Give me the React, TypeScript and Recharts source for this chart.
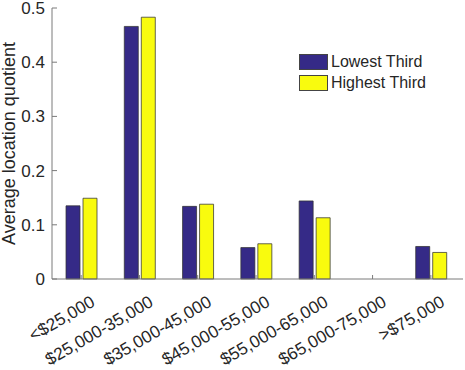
import React from 'react';
import { BarChart, Bar, XAxis, YAxis, Legend } from 'recharts';

const categories = ['<$25,000', '$25,000-35,000', '$35,000-45,000', '$45,000-55,000', '$55,000-65,000', '$65,000-75,000', '>$75,000'];
const lowestThird = [0.135, 0.466, 0.134, 0.058, 0.144, 0, 0.06];
const highestThird = [0.149, 0.483, 0.138, 0.065, 0.113, 0, 0.049];
const yTicks = [0, 0.1, 0.2, 0.3, 0.4, 0.5];
const seriesOrder = ['low', 'high'];

const data = categories.map((c, i) => ({ cat: c, low: lowestThird[i], high: highestThird[i] }));

const FONT = '"Liberation Sans", Arial, Helvetica, sans-serif';
const AXIS = '#7a7a7a';
const TEXT = '#262626';
const BLUE = '#352A87';
const YELLOW = '#F9FB0E';
const TOP = 8;
const PLOT_H = 271;

const XTick = (props: any) => {
  const { x, y, payload } = props;
  return (
    <g transform={`translate(${x + 12},${y + 21})`}>
      <text
        x={0}
        y={0}
        dy="0.35em"
        textAnchor="end"
        transform="rotate(-30)"
        fontSize={17.3}
        fontFamily={FONT}
        fill={TEXT}
      >
        {payload.value}
      </text>
    </g>
  );
};

const YLabel = () => {
  const cx = 9;
  const cy = TOP + PLOT_H / 2;
  return (
    <text
      x={cx}
      y={cy}
      dy="0.35em"
      textAnchor="middle"
      transform={`rotate(-90, ${cx}, ${cy})`}
      fontSize={18}
      fontFamily={FONT}
      fill={TEXT}
    >
      Average location quotient
    </text>
  );
};

const LegendContent = (props: any) => {
  const items = [...(props.payload || [])].sort(
    (a: any, b: any) => seriesOrder.indexOf(a.dataKey) - seriesOrder.indexOf(b.dataKey)
  );
  return (
    <div style={{ fontFamily: FONT }}>
      {items.map((it: any) => (
        <div key={it.value} style={{ display: 'flex', alignItems: 'center', height: 21 }}>
          <div
            style={{
              width: 27,
              height: 14,
              background: it.color,
              border: '1px solid #444',
              marginRight: 3,
            }}
          />
          <span style={{ fontSize: 16, color: TEXT, lineHeight: '21px' }}>{it.value}</span>
        </div>
      ))}
    </div>
  );
};

export default function App() {
  return (
    <div style={{ position: 'absolute', left: 0, top: 0, width: 465, height: 370, background: '#fff' }}>
      <BarChart
        width={465}
        height={370}
        data={data}
        margin={{ top: TOP, right: 2, left: 0, bottom: 0 }}
        barSize={14}
        barGap={3}
      >
        <XAxis
          xAxisId="b"
          dataKey="cat"
          orientation="bottom"
          height={91}
          interval={0}
          padding={{ left: 0, right: 3 }}
          axisLine={{ stroke: AXIS }}
          tickLine={{ stroke: AXIS }}
          tickSize={-4}
          tickMargin={4}
          tick={<XTick />}
        />
        <XAxis
          xAxisId="t"
          dataKey="cat"
          orientation="top"
          height={0}
          interval={0}
          padding={{ left: 0, right: 3 }}
          axisLine={{ stroke: AXIS }}
          tickLine={{ stroke: AXIS }}
          tickSize={-4}
          tick={false}
        />
        <YAxis
          yAxisId="l"
          width={52}
          domain={[0, 0.5]}
          ticks={yTicks}
          interval={0}
          axisLine={{ stroke: AXIS }}
          tickLine={{ stroke: AXIS }}
          tickSize={-5}
          tickMargin={12}
          tick={{ fontSize: 17, fontFamily: FONT, fill: TEXT }}
          label={<YLabel />}
        />
        <YAxis
          yAxisId="r"
          orientation="right"
          width={0}
          domain={[0, 0.5]}
          ticks={yTicks}
          interval={0}
          axisLine={{ stroke: AXIS }}
          tickLine={{ stroke: AXIS }}
          tickSize={-5}
          tick={false}
        />
        <Legend
          layout="horizontal"
          verticalAlign="middle"
          align="center"
          content={<LegendContent />}
          wrapperStyle={{ position: 'absolute', top: 51, left: 299, width: 150 }}
        />
        <Bar
          xAxisId="b"
          yAxisId="l"
          dataKey="low"
          name="Lowest Third"
          fill={BLUE}
          stroke="#333"
          strokeWidth={0.75}
          isAnimationActive={false}
        />
        <Bar
          xAxisId="b"
          yAxisId="l"
          dataKey="high"
          name="Highest Third"
          fill={YELLOW}
          stroke="#333"
          strokeWidth={0.75}
          isAnimationActive={false}
        />
      </BarChart>
    </div>
  );
}
